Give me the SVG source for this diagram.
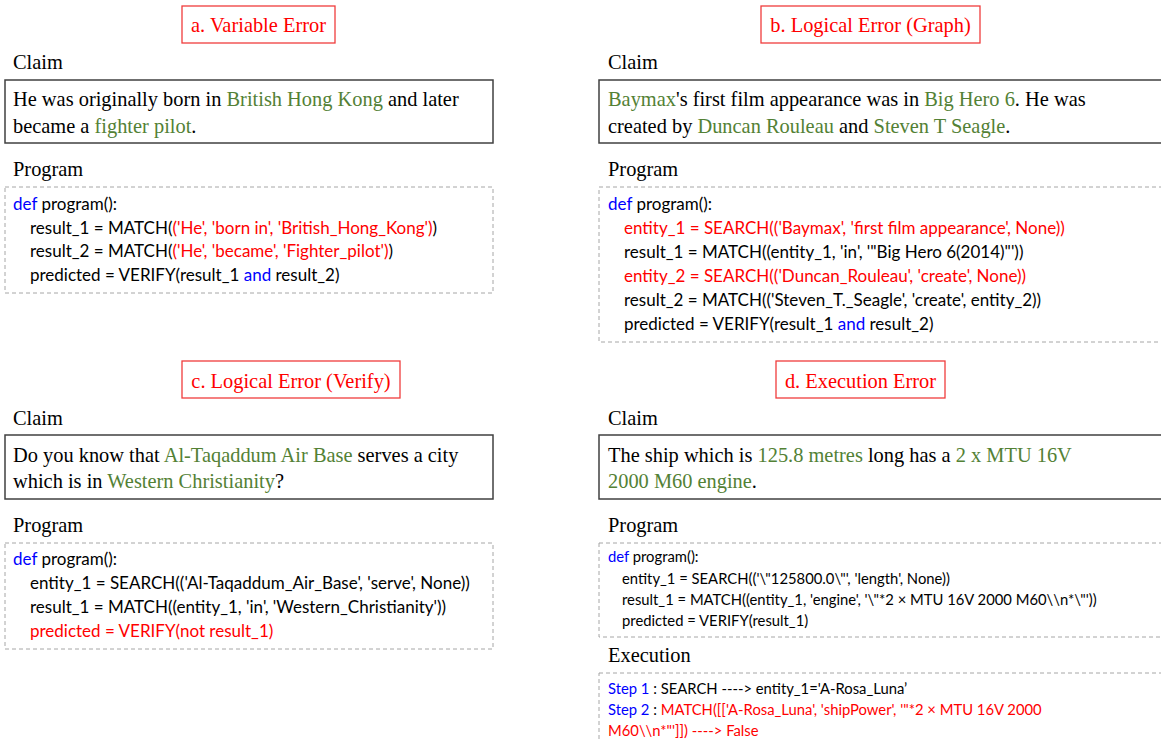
<svg xmlns="http://www.w3.org/2000/svg" width="1161" height="742" viewBox="0 0 1161 742">
<style>
.title{font-family:"Liberation Serif",serif;font-size:20.4px;fill:#FF0000}
.tbox{fill:none;stroke:#F03C3C;stroke-width:1.3}
.lbl{font-family:"Liberation Serif",serif;font-size:20.4px;fill:#000}
.claim{font-family:"Liberation Serif",serif;font-size:20.4px;fill:#000}
.cbox{fill:#fff;stroke:#404040;stroke-width:1.5}
.pbox{fill:#fff;stroke:#A6A6A6;stroke-width:1;stroke-dasharray:4 3}
.g{fill:#538135}
.code{font-family:Lato,"Open Sans",sans-serif;font-size:17px;fill:#000}
.code2{font-family:Lato,"Open Sans",sans-serif;font-size:14.8px;fill:#000}
.r{fill:#FF0000}
.b{fill:#0000FF}
</style>
<rect width="1161" height="742" fill="#fff"/>

<g id="panel-a">
<rect class="tbox" x="182" y="6" width="153" height="37"/>
<text class="title" x="258.5" y="32" text-anchor="middle">a. Variable Error</text>
<text class="lbl" x="13" y="69">Claim</text>
<rect class="cbox" x="5" y="80" width="488" height="63"/>
<text class="claim" x="13" y="106">He was originally born in <tspan class="g">British Hong Kong</tspan> and later</text>
<text class="claim" x="13" y="133">became a <tspan class="g">fighter pilot</tspan>.</text>
<text class="lbl" x="13" y="176">Program</text>
<rect class="pbox" x="5" y="187" width="488" height="106"/>
<text class="code" x="13" y="210"><tspan class="b">def</tspan> program():</text>
<text class="code" x="30" y="234">result_1 = MATCH(<tspan class="r">('He', 'born in', 'British_Hong_Kong')</tspan>)</text>
<text class="code" x="30" y="257">result_2 = MATCH(<tspan class="r">('He', 'became', 'Fighter_pilot')</tspan>)</text>
<text class="code" x="30" y="281">predicted = VERIFY(result_1 <tspan class="b">and</tspan> result_2)</text>
</g>

<g id="panel-b">
<rect class="tbox" x="761" y="6" width="219" height="37"/>
<text class="title" x="870.5" y="32" text-anchor="middle">b. Logical Error (Graph)</text>
<text class="lbl" x="608" y="69">Claim</text>
<rect class="cbox" x="599" y="80" width="580" height="63"/>
<text class="claim" x="608" y="106"><tspan class="g">Baymax</tspan>'s first film appearance was in <tspan class="g">Big Hero 6</tspan>. He was</text>
<text class="claim" x="608" y="133">created by <tspan class="g">Duncan Rouleau</tspan> and <tspan class="g">Steven T Seagle</tspan>.</text>
<text class="lbl" x="608" y="176">Program</text>
<rect class="pbox" x="599" y="187" width="580" height="155"/>
<text class="code" x="608" y="210"><tspan class="b">def</tspan> program():</text>
<text class="code r" x="624" y="234">entity_1 = SEARCH(('Baymax', 'first film appearance', None))</text>
<text class="code" x="624" y="258">result_1 = MATCH((entity_1, 'in', '"Big Hero 6(2014)"'))</text>
<text class="code r" x="624" y="282">entity_2 = SEARCH(('Duncan_Rouleau', 'create', None))</text>
<text class="code" x="624" y="306">result_2 = MATCH(('Steven_T._Seagle', 'create', entity_2))</text>
<text class="code" x="624" y="330">predicted = VERIFY(result_1 <tspan class="b">and</tspan> result_2)</text>
</g>

<g id="panel-c">
<rect class="tbox" x="182" y="361" width="218" height="37"/>
<text class="title" x="291" y="388" text-anchor="middle">c. Logical Error (Verify)</text>
<text class="lbl" x="13" y="425">Claim</text>
<rect class="cbox" x="5" y="435" width="488" height="64"/>
<text class="claim" x="13" y="462">Do you know that <tspan class="g">Al-Taqaddum Air Base</tspan> serves a city</text>
<text class="claim" x="13" y="488">which is in <tspan class="g">Western Christianity</tspan>?</text>
<text class="lbl" x="13" y="532">Program</text>
<rect class="pbox" x="5" y="543" width="488" height="106"/>
<text class="code" x="13" y="565"><tspan class="b">def</tspan> program():</text>
<text class="code" x="30" y="589">entity_1 = SEARCH(('Al-Taqaddum_Air_Base', 'serve', None))</text>
<text class="code" x="30" y="613">result_1 = MATCH((entity_1, 'in', 'Western_Christianity'))</text>
<text class="code r" x="30" y="637">predicted = VERIFY(not result_1)</text>
</g>

<g id="panel-d">
<rect class="tbox" x="776" y="361" width="169" height="37"/>
<text class="title" x="860.5" y="388" text-anchor="middle">d. Execution Error</text>
<text class="lbl" x="608" y="425">Claim</text>
<rect class="cbox" x="599" y="435" width="580" height="64"/>
<text class="claim" x="608" y="462">The ship which is <tspan class="g">125.8 metres</tspan> long has a <tspan class="g">2 x MTU 16V</tspan></text>
<text class="claim" x="608" y="488"><tspan class="g">2000 M60 engine</tspan>.</text>
<text class="lbl" x="608" y="532">Program</text>
<rect class="pbox" x="599" y="543" width="580" height="94"/>
<text class="code2" x="608" y="562"><tspan class="b">def</tspan> program():</text>
<text class="code2" x="622" y="584">entity_1 = SEARCH(('\"125800.0\"', 'length', None))</text>
<text class="code2" x="622" y="605">result_1 = MATCH((entity_1, 'engine', '\"*2 × MTU 16V 2000 M60\\n*\"'))</text>
<text class="code2" x="622" y="626">predicted = VERIFY(result_1)</text>
<text class="lbl" x="608" y="662">Execution</text>
<rect class="pbox" x="599" y="673" width="580" height="90"/>
<text class="code2" x="608" y="694"><tspan class="b">Step 1</tspan> : SEARCH ----&gt; entity_1='A-Rosa_Luna’</text>
<text class="code2" x="608" y="715"><tspan class="b">Step 2</tspan> : <tspan class="r">MATCH([['A-Rosa_Luna', 'shipPower', '"*2 × MTU 16V 2000</tspan></text>
<text class="code2 r" x="608" y="736">M60\\n*"']]) ----&gt; False</text>
</g>
</svg>
